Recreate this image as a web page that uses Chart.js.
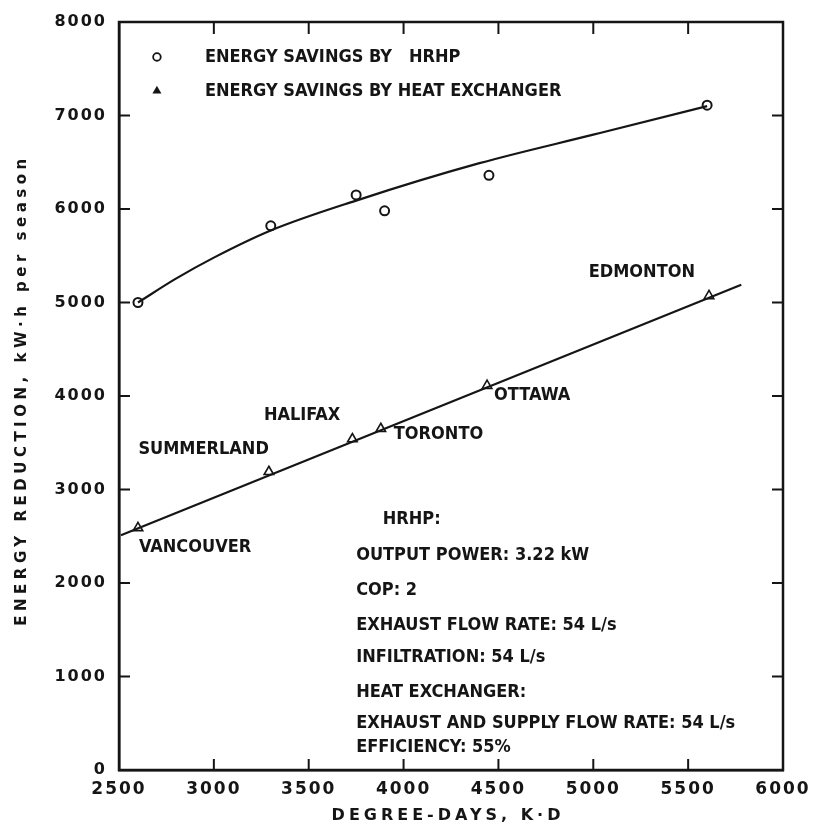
<!DOCTYPE html>
<html lang="en">
<head>
  <meta charset="UTF-8">
  <title>Energy Reduction vs Degree-Days</title>
  <script src="https://cdn.jsdelivr.net/npm/chart.js@4.4.0/dist/chart.umd.min.js"></script>
  <style>
    body { margin: 0; background: #ffffff; }
    canvas#energyChart { display: block; }
  </style>
</head>
<body>
  <canvas id="energyChart" width="817" height="830"></canvas>

  <script>
    // measured points
    const hrhpDegreeDays = [2600, 3300, 3750, 3900, 4450, 5600];
    const hrhpSavings = [5000, 5820, 6150, 5980, 6360, 7110];
    const hxDegreeDays = [2600, 3290, 3730, 3880, 4440, 5610];
    const hxSavings = [2590, 3190, 3540, 3650, 4110, 5070];
    const cityNames = ["VANCOUVER", "SUMMERLAND", "HALIFAX", "TORONTO", "OTTAWA", "EDMONTON"];

    // fitted curves
    const hrhpCurveX = [2600, 2800, 3000, 3300, 3750, 4400, 5000, 5600];
    const hrhpCurveY = [5000, 5255, 5480, 5770, 6090, 6490, 6795, 7100];
    const hxLineX = [2510, 5780];
    const hxLineY = [2510, 5190];

    const xTicks = [2500, 3000, 3500, 4000, 4500, 5000, 5500, 6000];
    const yTicks = [0, 1000, 2000, 3000, 4000, 5000, 6000, 7000, 8000];

    const legendLabels = ["ENERGY SAVINGS BY   HRHP", "ENERGY SAVINGS BY HEAT EXCHANGER"];
    const noteLines = [
      "OUTPUT POWER: 3.22 kW",
      "COP: 2",
      "EXHAUST FLOW RATE: 54 L/s",
      "INFILTRATION: 54 L/s",
      "HEAT EXCHANGER:",
      "EXHAUST AND SUPPLY FLOW RATE: 54 L/s",
      "EFFICIENCY: 55%"
    ];
    const noteValues = [2300, 1925, 1551, 1209, 834, 503, 246];

    const pairs = (xs, ys) => xs.map((x, i) => ({ x: x, y: ys[i] }));

    const ink = "#151515";
    const textFont = "bold 18px 'DejaVu Sans Condensed', 'DejaVu Sans', sans-serif";

    // label offsets from each city's triangle, in px
    const cityOffsets = [
      { dx: 1, dy: 19, align: "left" },
      { dx: 0, dy: -22, align: "right" },
      { dx: -12, dy: -24, align: "right" },
      { dx: 13, dy: 6, align: "left" },
      { dx: 7, dy: 10, align: "left" },
      { dx: -14, dy: -24, align: "right" }
    ];

    const paperPlugin = {
      id: "paper",
      beforeDraw(chart) {
        chart.ctx.letterSpacing = "2px";
      },
      afterDraw(chart) {
        const ctx = chart.ctx;
        const a = chart.chartArea;
        const xs = chart.scales.x;
        const ys = chart.scales.y;

        ctx.save();
        ctx.letterSpacing = "0px";
        ctx.strokeStyle = ink;
        ctx.lineWidth = 2.5;
        ctx.strokeRect(a.left, a.top, a.right - a.left, a.bottom - a.top);

        // inward ticks on all four sides
        ctx.lineWidth = 2;
        ctx.beginPath();
        xTicks.slice(1, -1).forEach(v => {
          const px = xs.getPixelForValue(v);
          ctx.moveTo(px, a.bottom); ctx.lineTo(px, a.bottom - 11);
          ctx.moveTo(px, a.top); ctx.lineTo(px, a.top + 12);
        });
        yTicks.slice(1, -1).forEach(v => {
          const py = ys.getPixelForValue(v);
          ctx.moveTo(a.left, py); ctx.lineTo(a.left + 11, py);
          ctx.moveTo(a.right, py); ctx.lineTo(a.right - 11, py);
        });
        ctx.stroke();

        ctx.fillStyle = ink;
        ctx.font = textFont;
        ctx.textBaseline = "middle";

        // legend
        const lx = xs.getPixelForValue(2700);
        const tx = xs.getPixelForValue(2953);
        const legendY = [7626, 7262];
        const styles = ["circle", "triangle"];
        legendLabels.forEach((t, i) => {
          const py = ys.getPixelForValue(legendY[i]);
          ctx.fillStyle = i === 0 ? "#ffffff" : ink;
          ctx.lineWidth = 1.8;
          Chart.helpers.drawPoint(ctx, {
            pointStyle: styles[i], radius: i === 0 ? 3.8 : 3.4, borderWidth: 1.8
          }, lx, py);
          ctx.fillStyle = ink;
          ctx.textAlign = "left";
          ctx.fillText(t, tx, py);
        });

        // city names
        cityNames.forEach((name, i) => {
          const px = xs.getPixelForValue(hxDegreeDays[i]) + cityOffsets[i].dx;
          const py = ys.getPixelForValue(hxSavings[i]) + cityOffsets[i].dy;
          ctx.textAlign = cityOffsets[i].align;
          ctx.fillText(name, px, py);
        });

        // notes block
        ctx.textAlign = "left";
        ctx.fillText("HRHP:", xs.getPixelForValue(3890), ys.getPixelForValue(2684));
        const nx = xs.getPixelForValue(3750);
        noteLines.forEach((t, i) => {
          ctx.fillText(t, nx, ys.getPixelForValue(noteValues[i]));
        });

        // axis titles
        ctx.font = "bold 15px 'DejaVu Sans', sans-serif";
        ctx.letterSpacing = "4.5px";
        ctx.textAlign = "center";
        ctx.save();
        ctx.translate(22, (a.top + a.bottom) / 2 - 6);
        ctx.rotate(-Math.PI / 2);
        ctx.fillText("ENERGY REDUCTION, kW\u00b7h per season", 0, 0);
        ctx.restore();
        ctx.letterSpacing = "4px";
        ctx.font = "bold 16px 'DejaVu Sans', sans-serif";
        ctx.fillText("DEGREE-DAYS, K\u00b7D", 448, 816);
        ctx.restore();
      }
    };

    new Chart(document.getElementById("energyChart").getContext("2d"), {
      type: "scatter",
      data: {
        datasets: [
          {
            label: "HRHP fit",
            data: pairs(hrhpCurveX, hrhpCurveY),
            showLine: true,
            cubicInterpolationMode: "monotone",
            borderColor: ink,
            borderWidth: 2.2,
            pointRadius: 0
          },
          {
            label: "Heat exchanger fit",
            data: pairs(hxLineX, hxLineY),
            showLine: true,
            borderColor: ink,
            borderWidth: 2.2,
            pointRadius: 0
          },
          {
            label: "Energy savings by HRHP",
            data: pairs(hrhpDegreeDays, hrhpSavings),
            pointStyle: "circle",
            pointRadius: 4.5,
            pointBorderWidth: 2,
            borderColor: ink,
            backgroundColor: "#ffffff"
          },
          {
            label: "Energy savings by heat exchanger",
            data: pairs(hxDegreeDays, hxSavings),
            pointStyle: "triangle",
            pointRadius: 5.5,
            pointBorderWidth: 1.6,
            borderColor: ink,
            backgroundColor: "#ffffff"
          }
        ]
      },
      options: {
        responsive: false,
        animation: false,
        layout: { padding: { top: 22, right: 34, left: 0, bottom: 0 } },
        plugins: {
          legend: { display: false },
          tooltip: { enabled: false }
        },
        scales: {
          x: {
            type: "linear",
            min: 2500,
            max: 6000,
            afterBuildTicks: s => { s.ticks = xTicks.map(v => ({ value: v })); },
            afterFit: s => { s.height = 60; },
            grid: { display: false, drawTicks: false },
            border: { display: true, color: ink, width: 2.5 },
            ticks: {
              color: ink,
              padding: 9,
              maxRotation: 0,
              font: { family: "'DejaVu Sans', sans-serif", size: 17, weight: "bold" },
              callback: v => String(v)
            }
          },
          y: {
            min: 0,
            max: 8000,
            afterBuildTicks: s => { s.ticks = yTicks.map(v => ({ value: v })); },
            afterFit: s => { s.width = 119; },
            grid: { display: false, drawTicks: false },
            border: { display: true, color: ink, width: 2.5 },
            ticks: {
              color: ink,
              padding: 12,
              font: { family: "'DejaVu Sans', sans-serif", size: 16, weight: "bold" },
              callback: v => String(v)
            }
          }
        }
      },
      plugins: [paperPlugin]
    });
  </script>
</body>
</html>
